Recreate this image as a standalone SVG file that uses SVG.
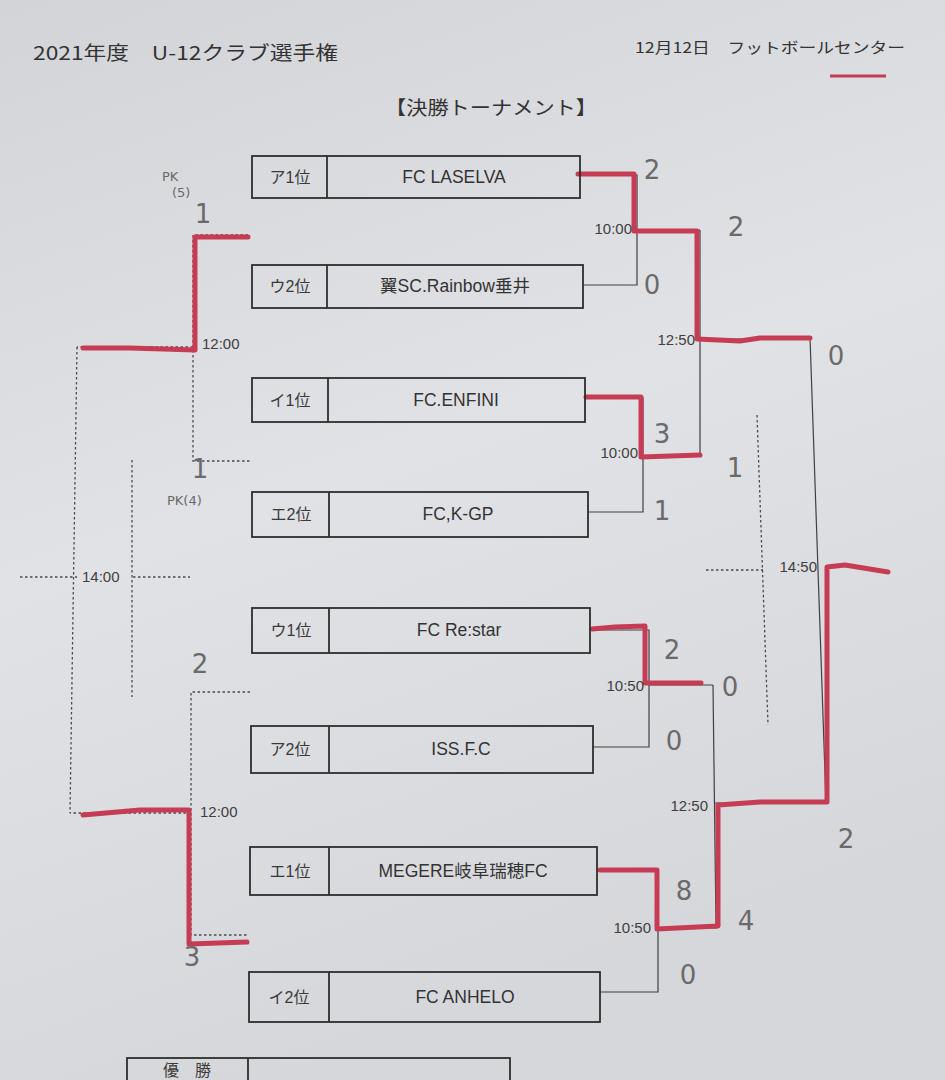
<svg xmlns="http://www.w3.org/2000/svg" width="945" height="1080" viewBox="0 0 945 1080">
<defs>
<linearGradient id="paper" x1="0" y1="0" x2="0.3" y2="1">
<stop offset="0" stop-color="#d3d4d8"/>
<stop offset="0.5" stop-color="#e1e2e5"/>
<stop offset="1" stop-color="#d6d7da"/>
</linearGradient>
<style>
.box{fill:none;stroke:#2e2e2e;stroke-width:1.8}
.lbl{font-family:"Liberation Sans","Noto Sans CJK JP",sans-serif;font-size:16px;fill:#3a3a3a;text-anchor:middle}
.name{font-family:"Liberation Sans","Noto Sans CJK JP",sans-serif;font-size:17.5px;fill:#333;text-anchor:middle}
.ln{fill:none;stroke:#404040;stroke-width:1.2}
.dot{fill:none;stroke:#4a4a4a;stroke-width:1.3;stroke-dasharray:2.5 2.5}
.red{fill:none;stroke:#c63c55;stroke-width:5;stroke-linejoin:round;stroke-linecap:round}
.time{font-family:"Liberation Sans",sans-serif;font-size:15px;fill:#404040}
.hand{font-family:"DejaVu Sans",sans-serif;font-size:26px;fill:#6a6a6a;text-anchor:middle}
.handS{font-family:"DejaVu Sans",sans-serif;font-size:13px;fill:#6a6a6a}
.head{font-family:"Noto Sans CJK JP",sans-serif;fill:#333}
</style>
</defs>
<rect width="945" height="1080" fill="url(#paper)"/>

<g id="header">
<text class="head" x="33" y="60" font-size="19" textLength="305" lengthAdjust="spacingAndGlyphs">2021年度　U-12クラブ選手権</text>
<text class="head" x="635" y="53" font-size="15" textLength="270" lengthAdjust="spacingAndGlyphs">12月12日　フットボールセンター</text>
<line x1="830" y1="76" x2="886" y2="76" stroke="#c63c55" stroke-width="3"/>
<text class="head" x="385" y="115" font-size="19" textLength="212" lengthAdjust="spacingAndGlyphs">【決勝トーナメント】</text>
</g>

<g id="connectors">
<path class="ln" d="M580 175 H637 V285 H583 M637 230 H700"/>
<path class="ln" d="M700 230 V455 M700 339 H810"/>
<path class="ln" d="M585 398 H643 V512 H588 M643 456 H700"/>
<path class="ln" d="M810 337 L826 803 M714 803 H826"/>
<path class="ln" d="M590 630 H649 V747 H593 M649 685 H713"/>
<path class="ln" d="M713 685 L716 927"/>
<path class="ln" d="M597 870 H658 V992 H600 M658 928 H717"/>
<path class="dot" d="M248 235 H193 V461 H250 M193 347 H77"/>
<path class="dot" d="M250 692 H191 V935 H247 M191 813 H70"/>
<path class="dot" d="M77 347 L70 813 M132 460 V697 M20 577 H77 M133 577 H190"/>
<path class="dot" d="M757 415 L768 725 M706 570 H763"/>
</g>

<g id="results">
<path class="red" d="M578 174 H634 V231 H697 V339 L740 341 L760 338 H810"/>
<path class="red" d="M586 397 H641 V457 L700 455"/>
<path class="red" d="M592 629 L615 627 L645 626 V683 H701"/>
<path class="red" d="M600 870 H657 V929 L718 926 V805 L760 802 H827 V567 L845 565 L888 572"/>
<path class="red" d="M248 237 H195 V350 L130 348 H83"/>
<path class="red" d="M83 815 L140 810 H189 V944 L247 942"/>
</g>

<g id="times">
<text class="time" x="632" y="234" text-anchor="end">10:00</text>
<text class="time" x="695" y="345" text-anchor="end">12:50</text>
<text class="time" x="638" y="458" text-anchor="end">10:00</text>
<text class="time" x="644" y="691" text-anchor="end">10:50</text>
<text class="time" x="708" y="811" text-anchor="end">12:50</text>
<text class="time" x="651" y="933" text-anchor="end">10:50</text>
<text class="time" x="817" y="572" text-anchor="end">14:50</text>
<text class="time" x="202" y="349">12:00</text>
<text class="time" x="200" y="817">12:00</text>
<text class="time" x="82" y="582">14:00</text>
</g>

<g id="team1"><rect class="box" x="252" y="156" width="328" height="42"/><line class="box" x1="327" y1="156" x2="327" y2="198"/><text class="lbl" x="290" y="183">ア1位</text><text class="name" x="454" y="183">FC LASELVA</text></g>
<g id="team2"><rect class="box" x="252" y="265" width="331" height="43"/><line class="box" x1="327" y1="265" x2="327" y2="308"/><text class="lbl" x="290" y="292">ウ2位</text><text class="name" x="455" y="292">翼SC.Rainbow垂井</text></g>
<g id="team3"><rect class="box" x="252" y="378" width="333" height="44"/><line class="box" x1="328" y1="378" x2="328" y2="422"/><text class="lbl" x="290" y="406">イ1位</text><text class="name" x="456" y="406">FC.ENFINI</text></g>
<g id="team4"><rect class="box" x="252" y="492" width="336" height="45"/><line class="box" x1="329" y1="492" x2="329" y2="537"/><text class="lbl" x="291" y="520">エ2位</text><text class="name" x="458" y="520">FC,K-GP</text></g>
<g id="team5"><rect class="box" x="252" y="608" width="338" height="45"/><line class="box" x1="329" y1="608" x2="329" y2="653"/><text class="lbl" x="291" y="636">ウ1位</text><text class="name" x="459" y="636">FC Re:star</text></g>
<g id="team6"><rect class="box" x="251" y="726" width="342" height="47"/><line class="box" x1="329" y1="726" x2="329" y2="773"/><text class="lbl" x="290" y="755">ア2位</text><text class="name" x="461" y="755">ISS.F.C</text></g>
<g id="team7"><rect class="box" x="250" y="847" width="347" height="48"/><line class="box" x1="329" y1="847" x2="329" y2="895"/><text class="lbl" x="290" y="877">エ1位</text><text class="name" x="463" y="877">MEGERE岐阜瑞穂FC</text></g>
<g id="team8"><rect class="box" x="249" y="972" width="351" height="50"/><line class="box" x1="329" y1="972" x2="329" y2="1022"/><text class="lbl" x="289" y="1003">イ2位</text><text class="name" x="465" y="1003">FC ANHELO</text></g>
<g id="winner"><rect class="box" x="127" y="1058" width="383" height="40"/><line class="box" x1="248" y1="1058" x2="248" y2="1098"/><text class="lbl" x="187" y="1076" font-size="14">優　勝</text></g>

<g id="scores">
<text class="hand" x="652" y="179" font-size="22">2</text>
<text class="hand" x="652" y="294" font-size="22">0</text>
<text class="hand" x="736" y="236">2</text>
<text class="hand" x="836" y="365" font-size="28">0</text>
<text class="hand" x="662" y="443">3</text>
<text class="hand" x="662" y="520">1</text>
<text class="hand" x="735" y="477">1</text>
<text class="hand" x="672" y="659">2</text>
<text class="hand" x="730" y="696">0</text>
<text class="hand" x="674" y="750">0</text>
<text class="hand" x="846" y="848">2</text>
<text class="hand" x="684" y="900">8</text>
<text class="hand" x="746" y="930">4</text>
<text class="hand" x="688" y="984" font-size="28">0</text>
<text class="handS" x="162" y="181">PK</text>
<text class="handS" x="172" y="197">(5)</text>
<text class="hand" x="203" y="223" font-size="20">1</text>
<text class="hand" x="200" y="478" font-size="20">1</text>
<text class="handS" x="167" y="505">PK(4)</text>
<text class="hand" x="200" y="673" font-size="20">2</text>
<text class="hand" x="192" y="966" font-size="20">3</text>
</g>
</svg>
